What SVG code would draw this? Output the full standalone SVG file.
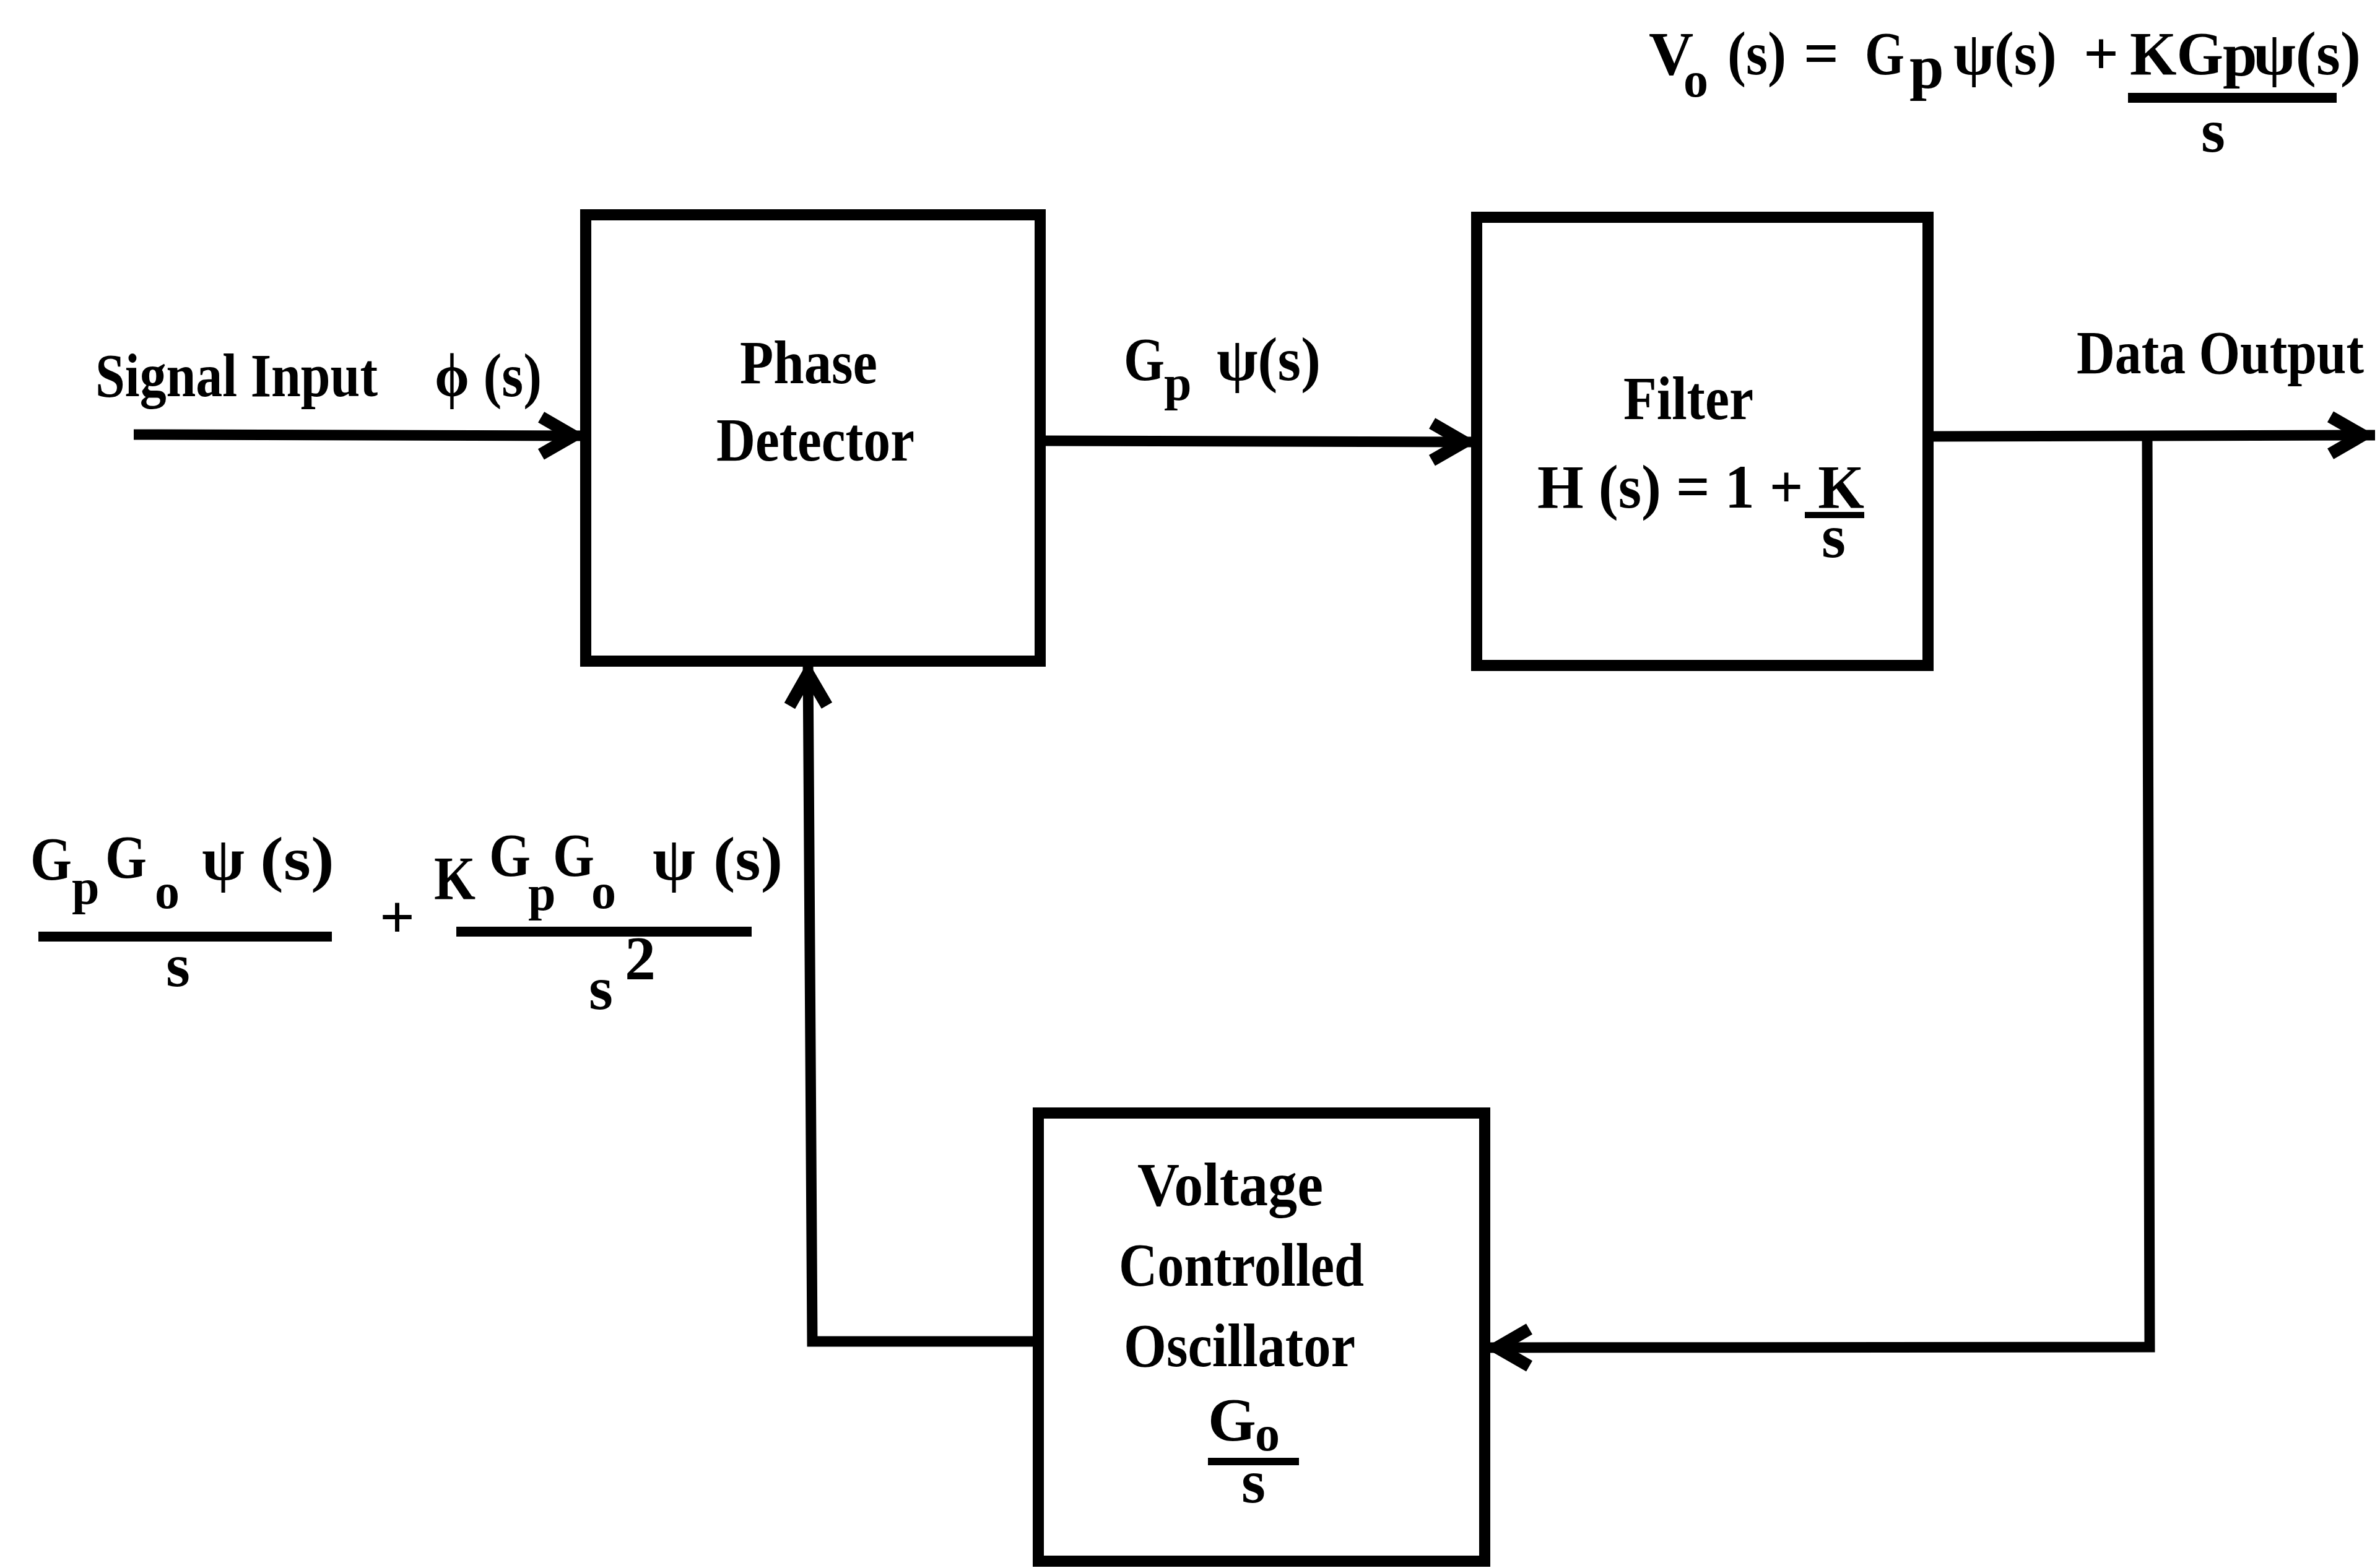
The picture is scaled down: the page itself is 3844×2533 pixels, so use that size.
<svg xmlns="http://www.w3.org/2000/svg" width="3844" height="2533" viewBox="0 0 3844 2533">
<style>
text{font-family:"Liberation Serif","Times New Roman",serif;font-weight:bold;font-size:100px;fill:#000}
.sub{font-size:80px}
.box{fill:none;stroke:#000;stroke-width:18}
.wire{fill:none;stroke:#000;stroke-width:17}
.bar{stroke:#000;stroke-width:16}
</style>
<defs>
<marker id="ah" markerUnits="userSpaceOnUse" viewBox="-110 -60 130 120" markerWidth="130" markerHeight="120" refX="0" refY="0" orient="auto" overflow="visible">
<path d="M -72 -30 L -20 0 L -72 30" fill="none" stroke="#000" stroke-width="20" stroke-linejoin="miter" stroke-miterlimit="10"/>
</marker>
</defs>
<rect width="3844" height="2533" fill="#fff"/>

<g id="equation-top">
<text x="2663" y="120">V</text>
<text class="sub" x="2719" y="156">o</text>
<text x="2790" y="120" textLength="95" lengthAdjust="spacingAndGlyphs">(s)</text>
<text x="2913" y="120">=</text>
<text x="3012" y="120" textLength="64" lengthAdjust="spacingAndGlyphs">G</text>
<text x="3084" y="142" font-size="90">p</text>
<text x="3155" y="120" textLength="167" lengthAdjust="spacingAndGlyphs">ψ(s)</text>
<text x="3365" y="120">+</text>
<text x="3440" y="120" textLength="151" lengthAdjust="spacingAndGlyphs">KG</text>
<text x="3590" y="122" font-size="90">p</text>
<text x="3639" y="120" textLength="174" lengthAdjust="spacingAndGlyphs">ψ(s)</text>
<line class="bar" x1="3437" y1="158" x2="3774" y2="158"/>
<text x="3555" y="245">s</text>
</g>

<g id="phase-detector">
<rect class="box" x="946" y="347" width="734" height="721"/>
<text x="1195" y="619" textLength="222" lengthAdjust="spacingAndGlyphs">Phase</text>
<text x="1157" y="744" textLength="320" lengthAdjust="spacingAndGlyphs">Detector</text>
</g>

<g id="filter">
<rect class="box" x="2385" y="351" width="729" height="724"/>
<text x="2622" y="677" textLength="210" lengthAdjust="spacingAndGlyphs">Filter</text>
<text x="2483" y="820" textLength="528" lengthAdjust="spacingAndGlyphs">H (s) = 1 + K</text>
<line x1="2915" y1="832" x2="3011" y2="832" stroke="#000" stroke-width="10"/>
<text x="2942" y="900">s</text>
</g>

<g id="vco">
<rect class="box" x="1677" y="1798" width="721" height="724"/>
<text x="1837" y="1947" textLength="300" lengthAdjust="spacingAndGlyphs">Voltage</text>
<text x="1807" y="2077" textLength="396" lengthAdjust="spacingAndGlyphs">Controlled</text>
<text x="1815" y="2207" textLength="374" lengthAdjust="spacingAndGlyphs">Oscillator</text>
<text x="1951" y="2327">G</text>
<text class="sub" x="2027" y="2343">o</text>
<line x1="1951" y1="2361" x2="2098" y2="2361" stroke="#000" stroke-width="12"/>
<text x="2005" y="2427">s</text>
</g>

<g id="labels">
<text x="154" y="640" textLength="456" lengthAdjust="spacingAndGlyphs">Signal Input</text>
<text x="702" y="640" textLength="173" lengthAdjust="spacingAndGlyphs">ϕ (s)</text>
<text x="1815" y="614" textLength="66" lengthAdjust="spacingAndGlyphs">G</text>
<text class="sub" x="1880" y="646">p</text>
<text x="1965" y="614" textLength="168" lengthAdjust="spacingAndGlyphs">ψ(s)</text>
<text x="3354" y="603" textLength="464" lengthAdjust="spacingAndGlyphs">Data Output</text>
</g>

<g id="equation-feedback">
<text x="49" y="1421" textLength="67" lengthAdjust="spacingAndGlyphs">G</text>
<text class="sub" x="116" y="1460">p</text>
<text x="170" y="1418" textLength="67" lengthAdjust="spacingAndGlyphs">G</text>
<text class="sub" x="250" y="1467">o</text>
<text x="326" y="1421">ψ</text>
<text x="420" y="1421" textLength="120" lengthAdjust="spacingAndGlyphs">(s)</text>
<line class="bar" x1="62" y1="1513" x2="536" y2="1513"/>
<text x="268" y="1593">s</text>
<text x="613" y="1515">+</text>
<text x="701" y="1452" textLength="67" lengthAdjust="spacingAndGlyphs">K</text>
<text x="790" y="1415" textLength="67" lengthAdjust="spacingAndGlyphs">G</text>
<text class="sub" x="853" y="1470">p</text>
<text x="893" y="1415" textLength="67" lengthAdjust="spacingAndGlyphs">G</text>
<text class="sub" x="955" y="1467">o</text>
<text x="1054" y="1421">ψ</text>
<text x="1152" y="1421" textLength="112" lengthAdjust="spacingAndGlyphs">(s)</text>
<line class="bar" x1="737" y1="1505" x2="1214" y2="1505"/>
<text x="951" y="1630">s</text>
<text x="1009" y="1581" font-size="90">2</text>
</g>

<g id="connectors">
<path class="wire" d="M 216 702 L 946 704" marker-end="url(#ah)"/>
<path class="wire" d="M 1680 712 L 2385 714" marker-end="url(#ah)"/>
<path class="wire" d="M 3114 705 L 3836 703" marker-end="url(#ah)"/>
<path class="wire" d="M 3468 703 L 3472 2176 L 2398 2177" marker-end="url(#ah)"/>
<path class="wire" d="M 1677 2167 L 1312 2167 L 1305 1068" marker-end="url(#ah)"/>
</g>
</svg>
